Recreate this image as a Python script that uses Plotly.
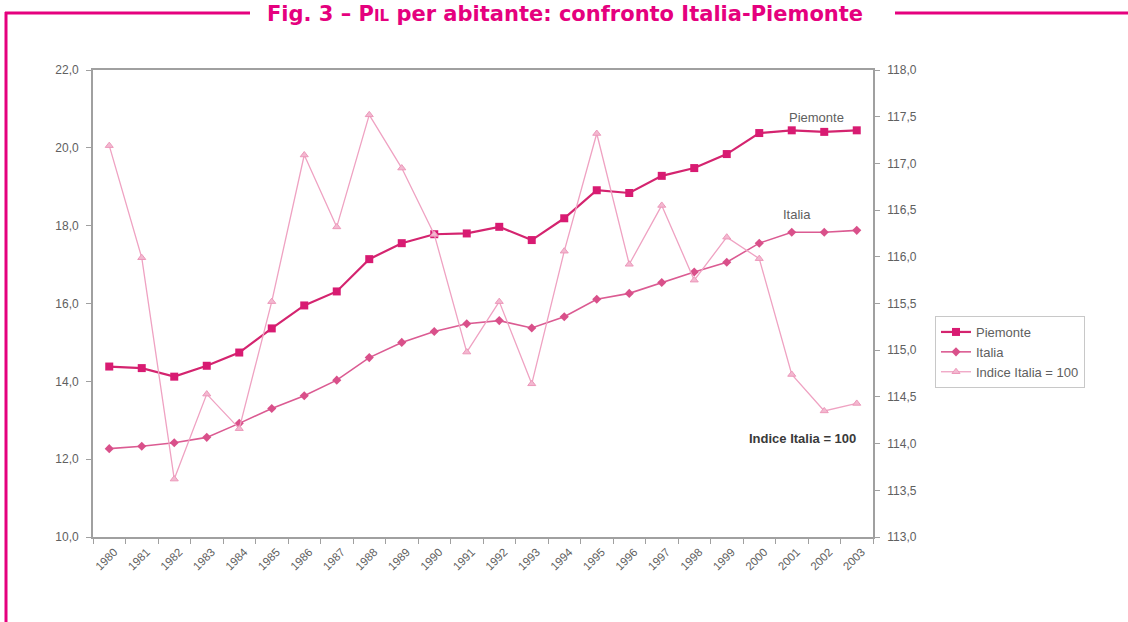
import plotly.graph_objects as go

years = [str(y) for y in range(1980, 2004)]
piemonte = [14.38, 14.34, 14.12, 14.40, 14.74, 15.36, 15.95, 16.31, 17.14, 17.55, 17.78, 17.80,
            17.97, 17.63, 18.19, 18.91, 18.84, 19.28, 19.48, 19.84, 20.38, 20.45, 20.41, 20.45]
italia = [12.27, 12.33, 12.42, 12.56, 12.92, 13.30, 13.63, 14.03, 14.61, 15.00, 15.28, 15.48,
          15.56, 15.37, 15.66, 16.11, 16.26, 16.54, 16.81, 17.06, 17.55, 17.83, 17.83, 17.88]
indice = [117.19, 115.99, 113.62, 114.53, 114.16, 115.52, 117.09, 116.32, 117.52, 116.95, 116.24, 114.98,
          115.52, 114.64, 116.06, 117.32, 115.92, 116.55, 115.75, 116.21, 115.98, 114.74, 114.35, 114.43]

left_ticks = [10, 12, 14, 16, 18, 20, 22]
right_ticks = [113.0, 113.5, 114.0, 114.5, 115.0, 115.5, 116.0, 116.5, 117.0, 117.5, 118.0]

W, H = 1128, 622
L, R, T, B = 93, 873, 70, 537

def px(x):
    return (x - L) / (R - L)

def py(y):
    return (B - y) / (B - T)

fig = go.Figure()
fig.add_trace(go.Scatter(x=years, y=piemonte, name="Piemonte", mode="lines+markers",
                         line=dict(color="#D4246F", width=2.2),
                         marker=dict(symbol="square", size=8, color="#D81B72")))
fig.add_trace(go.Scatter(x=years, y=italia, name="Italia", mode="lines+markers",
                         line=dict(color="#DB5B92", width=1.6),
                         marker=dict(symbol="diamond", size=7, color="#D9508A")))
fig.add_trace(go.Scatter(x=years, y=indice, name="Indice Italia = 100", mode="lines+markers",
                         yaxis="y2",
                         line=dict(color="#EFA2C2", width=1.3),
                         marker=dict(symbol="triangle-up", size=7, color="#F3B8D0",
                                     line=dict(color="#EC98BA", width=1))))

axis_font = dict(family="Liberation Sans, Arial, sans-serif", size=12, color="#606060")

fig.update_layout(
    width=W, height=H,
    margin=dict(l=L, r=W - R, t=T, b=H - B),
    paper_bgcolor="white", plot_bgcolor="white",
    separators=",.",
    showlegend=True,
    legend=dict(x=px(935), y=py(316), xanchor="left", yanchor="top",
                bordercolor="#C8C8C8", borderwidth=1, bgcolor="white",
                font=dict(family="Liberation Sans, Arial, sans-serif", size=13, color="#606060"),
                tracegroupgap=0, itemwidth=30),
    title=dict(text="Fig. 3 – P<span style='font-size:15px'>IL</span> per abitante: confronto Italia-Piemonte",
               xref="container", yref="container", x=565 / W, y=1 - 14 / H,
               xanchor="center", yanchor="middle",
               font=dict(family="DejaVu Sans, Liberation Sans, sans-serif",
                         size=21, color="#E5007E", weight="bold")),
    xaxis=dict(type="category", range=[-0.5, 23.5], tickson="boundaries",
               showline=True, linecolor="#A0A0A0", linewidth=1.8, mirror=True,
               ticks="outside", ticklen=5, tickcolor="#A0A0A0",
               tickangle=-45, ticklabelshift=5, ticklabelstandoff=2,
               tickfont=dict(family="Liberation Sans, Arial, sans-serif", size=11.5, color="#606060"),
               showgrid=False, zeroline=False),
    yaxis=dict(range=[10, 22], tickvals=left_ticks, tickformat=".1f",
               showline=True, linecolor="#A0A0A0", linewidth=1.8, mirror=True,
               ticks="outside", ticklen=5, tickcolor="#A0A0A0", ticklabelstandoff=5,
               tickfont=axis_font, showgrid=False, zeroline=False),
    yaxis2=dict(range=[113, 118], tickvals=right_ticks, tickformat=".1f",
                overlaying="y", side="right",
                showline=True, linecolor="#A0A0A0", linewidth=1.8,
                ticks="outside", ticklen=5, tickcolor="#A0A0A0", ticklabelstandoff=5,
                tickfont=axis_font, showgrid=False, zeroline=False),
)

ann_font = dict(family="Liberation Sans, Arial, sans-serif", size=13, color="#606060")
fig.add_annotation(x=px(816), y=py(117), xref="paper", yref="paper", text="Piemonte",
                   showarrow=False, font=ann_font, xanchor="center", yanchor="middle")
fig.add_annotation(x=px(797), y=py(214), xref="paper", yref="paper", text="Italia",
                   showarrow=False, font=ann_font, xanchor="center", yanchor="middle")
fig.add_annotation(x=px(802), y=py(438), xref="paper", yref="paper", text="Indice Italia = 100",
                   showarrow=False, font=dict(family="Liberation Sans, Arial, sans-serif", size=13,
                                              color="#3A3A3A", weight="bold"),
                   xanchor="center", yanchor="middle")

frame = dict(color="#E5007E", width=3)
fig.add_shape(type="line", xref="paper", yref="paper", x0=px(5), x1=px(250), y0=py(13), y1=py(13), line=frame)
fig.add_shape(type="line", xref="paper", yref="paper", x0=px(895), x1=px(1130), y0=py(13), y1=py(13), line=frame)
fig.add_shape(type="line", xref="paper", yref="paper", x0=px(6), x1=px(6), y0=py(12), y1=py(625), line=frame)

fig.write_html("out.html", config={"displayModeBar": False},
               post_script="document.body.style.margin='0px';")
